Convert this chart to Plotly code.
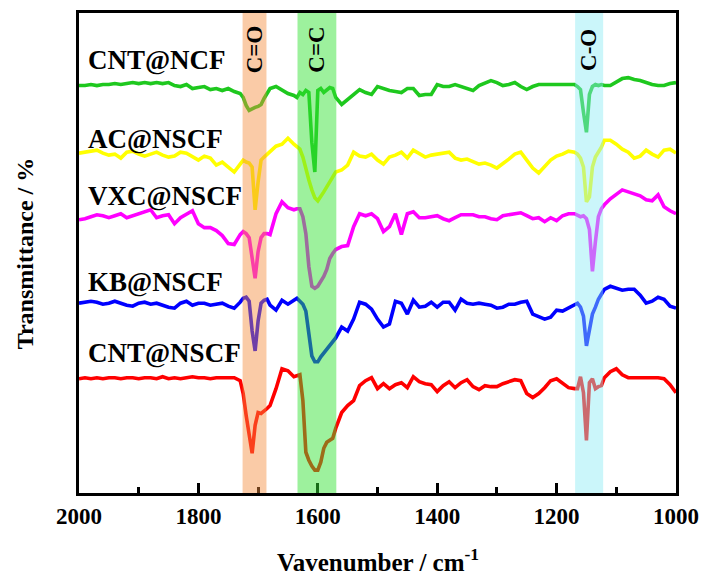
import plotly.graph_objects as go

# Wavenumber grid (cm^-1), finer through the absorption bands
wavenumber = [
    2000, 1990, 1980, 1970, 1960, 1950, 1940, 1930, 1920, 1910,
    1900, 1890, 1880, 1870, 1860, 1850, 1840, 1830, 1820, 1810,
    1800, 1790, 1780, 1770, 1760, 1750, 1740, 1730, 1725, 1720,
    1715, 1710, 1705, 1700, 1695, 1690, 1685, 1680, 1670, 1660,
    1650, 1640, 1635, 1630, 1625, 1620, 1615, 1610, 1605, 1600,
    1595, 1590, 1585, 1580, 1575, 1570, 1560, 1550, 1540, 1530,
    1520, 1510, 1500, 1490, 1480, 1470, 1460, 1450, 1440, 1430,
    1420, 1410, 1400, 1390, 1380, 1370, 1360, 1350, 1340, 1330,
    1320, 1310, 1300, 1290, 1280, 1270, 1260, 1250, 1240, 1230,
    1220, 1210, 1200, 1190, 1180, 1170, 1165, 1160, 1155, 1150,
    1145, 1140, 1135, 1130, 1125, 1120, 1110, 1100, 1090, 1080,
    1070, 1060, 1050, 1040, 1030, 1020, 1010, 1000,
]

# Offset transmittance (a.u.) for each sample
cnt_ncf = [
    417, 417, 418, 417, 418, 418, 419, 418, 419, 420,
    419, 420, 419, 420, 419, 420, 417, 416, 418, 414,
    415, 416, 413, 414, 412, 414, 411, 409, 405, 397,
    392, 394, 395, 396, 398, 404, 410, 414, 416, 412,
    409, 407, 405, 410, 408, 412, 410, 360, 330, 412,
    414, 410, 412, 415, 414, 405, 398, 403, 408, 413,
    410, 408, 416, 414, 412, 411, 410, 414, 414, 407,
    408, 408, 418, 416, 416, 418, 416, 414, 412, 417,
    420, 422, 420, 417, 418, 420, 416, 413, 416, 418,
    418, 418, 418, 418, 418, 418, 416, 413, 390, 370,
    408, 416, 418, 417, 418, 417, 417, 420, 424, 425,
    423, 422, 420, 418, 417, 417, 419, 420,
]

ac_nscf = [
    349, 350, 351, 352, 349, 347, 348, 344, 350, 351,
    348, 346, 348, 350, 347, 345, 346, 350, 349, 345,
    342, 346, 344, 337, 340, 335, 330, 338, 342, 340,
    339, 335, 292, 320, 342, 345, 348, 350, 356, 358,
    364, 358, 355, 353, 345, 332, 322, 312, 304, 301,
    305, 310, 315, 320, 326, 330, 332, 337, 350, 346,
    345, 348, 342, 338, 345, 347, 350, 344, 352, 348,
    345, 347, 348, 349, 350, 344, 342, 343, 340, 338,
    339, 337, 334, 338, 343, 348, 350, 342, 334, 329,
    335, 342, 346, 348, 351, 350, 348, 344, 335, 300,
    305, 335, 345, 350, 355, 362, 362, 358, 353, 350,
    344, 346, 352, 348, 345, 352, 353, 349,
]

vxc_nscf = [
    282, 283, 285, 287, 286, 284, 286, 288, 284, 286,
    288, 290, 292, 284, 286, 287, 278, 284, 288, 291,
    278, 274, 274, 271, 266, 258, 257, 267, 270, 268,
    264, 245, 223, 250, 264, 268, 268, 267, 288, 300,
    294, 292, 293, 293, 285, 268, 235, 215, 213, 215,
    220, 225, 232, 243, 248, 252, 255, 256, 275, 288,
    286, 288, 283, 270, 275, 288, 267, 288, 290, 284,
    284, 285, 286, 283, 281, 284, 287, 287, 287, 285,
    285, 283, 282, 286, 287, 288, 289, 286, 283, 284,
    280, 284, 281, 286, 288, 288, 286, 285, 286, 283,
    272, 230, 260, 285, 293, 297, 303, 308, 312, 310,
    308, 306, 302, 301, 307, 295, 291, 288,
]

kb_nscf = [
    198, 199, 200, 199, 197, 198, 200, 198, 196, 195,
    198, 199, 197, 198, 196, 194, 193, 198, 200, 196,
    198, 198, 196, 197, 198, 195, 193, 199, 203, 204,
    200, 170, 150, 180, 198, 201, 202, 196, 191, 201,
    197, 201, 203, 200, 197, 190, 165, 145, 139, 139,
    144, 148, 152, 156, 160, 163, 174, 170, 182, 199,
    197, 192, 182, 174, 177, 200, 198, 187, 201, 194,
    195, 199, 194, 199, 199, 191, 202, 198, 197, 198,
    197, 196, 193, 194, 197, 197, 199, 200, 187, 184,
    182, 184, 191, 190, 193, 197, 198, 194, 185, 155,
    170, 187, 194, 202, 207, 212, 215, 213, 211, 212,
    212, 206, 198, 200, 204, 202, 195, 193,
]

cnt_nscf = [
    122, 123, 122, 123, 122, 123, 123, 122, 123, 123,
    122, 123, 123, 122, 124, 122, 123, 122, 123, 124,
    123, 123, 122, 123, 123, 123, 123, 120, 107, 85,
    65, 47, 75, 88, 87, 89, 92, 95, 112, 132,
    130, 124, 125, 126, 100, 48, 40, 34, 30, 30,
    38, 52, 58, 60, 62, 72, 88, 95, 100, 115,
    120, 123, 112, 117, 112, 116, 118, 113, 124, 119,
    117, 116, 109, 115, 119, 113, 118, 121, 114, 111,
    115, 114, 114, 117, 119, 121, 120, 107, 103, 107,
    113, 120, 122, 117, 113, 112, 112, 124, 108, 60,
    118, 122, 112, 114, 115, 123, 129, 132, 126, 123,
    123, 123, 123, 123, 123, 122, 116, 108,
]

sample_names = ["CNT@NCF", "AC@NSCF", "VXC@NSCF", "KB@NSCF", "CNT@NSCF"]
sample_values = [cnt_ncf, ac_nscf, vxc_nscf, kb_nscf, cnt_nscf]
sample_colors = ["rgb(30,200,30)", "#ffff00", "#ff00ff", "#0000ff", "#ff0000"]
label_y = [443, 363, 306, 219, 148]

# Functional-group bands: (label, high wavenumber, low wavenumber, fill)
band_labels = ["C=O", "C=C", "C-O"]
band_hi = [1726, 1634, 1169]
band_lo = [1686, 1569, 1122]
band_fill = ["rgba(245,140,60,0.45)", "rgba(50,225,50,0.48)", "rgba(140,235,245,0.45)"]

serif = "Liberation Serif, Times New Roman, serif"

fig = go.Figure()
for name, vals, col in zip(sample_names, sample_values, sample_colors):
    fig.add_trace(go.Scatter(
        x=wavenumber, y=vals, mode="lines", name=name,
        line=dict(color=col, width=3.6),
        showlegend=False,
    ))

for name, yv in zip(sample_names, label_y):
    fig.add_annotation(
        x=1989, y=yv, xref="x", yref="y", text="<b>" + name + "</b>",
        showarrow=False, xanchor="left", yanchor="middle",
        font=dict(family=serif, size=27, color="black"),
    )

for lab, hi, lo, fill in zip(band_labels, band_hi, band_lo, band_fill):
    fig.add_shape(
        type="rect", xref="x", yref="paper", x0=hi, x1=lo, y0=0, y1=1,
        fillcolor=fill, line=dict(width=0), layer="above",
    )
    fig.add_annotation(
        x=(hi + lo) / 2, y=453, xref="x", yref="y", text="<b>" + lab + "</b>",
        showarrow=False, textangle=-90, xanchor="center", yanchor="middle",
        font=dict(family=serif, size=23, color="black"),
    )

# Axis titles
fig.add_annotation(
    x=0.5, y=-0.139, xref="paper", yref="paper",
    text="<b>Vavenumber / cm<sup>-1</sup></b>", showarrow=False,
    xanchor="center", yanchor="middle",
    font=dict(family=serif, size=25, color="black"),
)
fig.add_annotation(
    x=-0.09, y=0.5, xref="paper", yref="paper",
    text="<b>Transmittance / %</b>", showarrow=False, textangle=-90,
    xanchor="center", yanchor="middle",
    font=dict(family=serif, size=24, color="black"),
)

fig.update_xaxes(
    range=[2000, 1000], tickvals=[2000, 1800, 1600, 1400, 1200, 1000],
    ticktext=["<b>2000</b>", "<b>1800</b>", "<b>1600</b>", "<b>1400</b>",
              "<b>1200</b>", "<b>1000</b>"],
    ticks="inside", ticklen=10, tickwidth=2.5, tickcolor="black",
    minor=dict(tickvals=[1900, 1700, 1500, 1300, 1100], ticks="inside",
               ticklen=6, tickwidth=2.5, tickcolor="black"),
    showline=True, mirror=True, linewidth=3, linecolor="black",
    showgrid=False, zeroline=False,
    tickfont=dict(family=serif, size=23, color="black"),
)
fig.update_yaxes(
    range=[7, 490], showticklabels=False, ticks="",
    showline=True, mirror=True, linewidth=3, linecolor="black",
    showgrid=False, zeroline=False,
)
fig.update_layout(
    width=709, height=574,
    margin=dict(l=79, r=32, t=10, b=81),
    paper_bgcolor="white", plot_bgcolor="white",
    font=dict(family=serif),
)

fig.write_html("out.html")
